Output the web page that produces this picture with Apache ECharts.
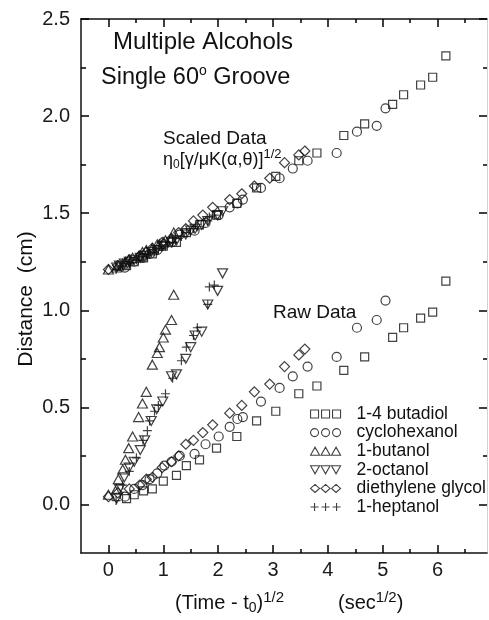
<!DOCTYPE html>
<html>
<head>
<meta charset="utf-8">
<script src="https://cdn.jsdelivr.net/npm/echarts@6/dist/echarts.min.js"></script>
<style>html,body{margin:0;padding:0;background:#fff}#c{width:489px;height:620px}</style>
</head>
<body>
<div id="c"></div>
<script>
// ---- data (x = (Time - t0)^1/2, raw distance, scaled distance) ----
const butadiolX      = [0.33,0.47,0.64,0.80,1.00,1.24,1.42,1.66,1.97,2.34,2.70,3.05,3.47,3.80,4.29,4.67,5.18,5.38,5.69,5.91,6.15];
const butadiolRaw    = [0.03,0.05,0.07,0.08,0.12,0.15,0.20,0.23,0.29,0.35,0.43,0.48,0.57,0.61,0.69,0.76,0.86,0.91,0.96,0.99,1.15];
const butadiolScaled = [1.23,1.25,1.27,1.29,1.33,1.35,1.40,1.44,1.49,1.55,1.63,1.69,1.77,1.81,1.90,1.96,2.06,2.11,2.16,2.20,2.31];

const cyclohexanolX      = [0.30,0.47,0.62,0.75,0.89,1.02,1.15,1.30,1.57,1.77,2.01,2.21,2.35,2.45,2.78,3.12,3.36,3.63,4.16,4.53,4.89,5.05];
const cyclohexanolRaw    = [0.04,0.08,0.10,0.13,0.16,0.20,0.22,0.25,0.26,0.31,0.35,0.40,0.44,0.45,0.53,0.60,0.66,0.71,0.76,0.91,0.95,1.05];
const cyclohexanolScaled = [1.22,1.25,1.27,1.29,1.31,1.34,1.35,1.39,1.41,1.45,1.49,1.53,1.55,1.57,1.63,1.68,1.73,1.77,1.81,1.92,1.95,2.04];

const butanolX      = [0.00,0.15,0.18,0.26,0.31,0.37,0.44,0.55,0.62,0.69,0.80,0.89,0.93,1.00,1.04,1.15,1.19];
const butanolRaw    = [0.05,0.08,0.13,0.18,0.23,0.29,0.35,0.45,0.52,0.58,0.72,0.78,0.81,0.86,0.90,0.95,1.08];
const butanolScaled = [1.21,1.22,1.23,1.24,1.25,1.26,1.27,1.28,1.30,1.31,1.32,1.34,1.34,1.35,1.36,1.37,1.40];

const octanolX      = [0.15,0.20,0.29,0.38,0.47,0.58,0.66,0.78,0.88,0.99,1.15,1.24,1.41,1.50,1.58,1.70,1.81,1.99,2.08];
const octanolRaw    = [0.03,0.08,0.14,0.19,0.22,0.28,0.33,0.43,0.49,0.53,0.66,0.67,0.75,0.81,0.87,0.89,1.03,1.10,1.19];
const octanolScaled = [1.22,1.23,1.24,1.25,1.26,1.27,1.28,1.30,1.31,1.33,1.35,1.36,1.39,1.41,1.42,1.44,1.46,1.49,1.51];

const glycolX      = [0.00,0.17,0.38,0.57,0.69,0.80,0.98,1.15,1.28,1.41,1.55,1.72,1.90,2.21,2.43,2.66,2.94,3.21,3.47,3.58];
const glycolRaw    = [0.04,0.06,0.08,0.10,0.13,0.14,0.19,0.22,0.25,0.31,0.33,0.37,0.41,0.47,0.51,0.58,0.62,0.71,0.77,0.80];
const glycolScaled = [1.21,1.23,1.26,1.28,1.30,1.32,1.35,1.37,1.40,1.42,1.46,1.49,1.53,1.57,1.60,1.64,1.68,1.76,1.80,1.82];

const heptanolX      = [0.14,0.26,0.38,0.51,0.63,0.71,0.75,0.84,0.91,1.04,1.17,1.33,1.42,1.55,1.62,1.81,1.84,1.93];
const heptanolRaw    = [0.02,0.10,0.17,0.24,0.33,0.38,0.43,0.48,0.51,0.57,0.65,0.74,0.81,0.87,0.91,1.03,1.12,1.13];
const heptanolScaled = [1.21,1.23,1.24,1.26,1.27,1.28,1.29,1.30,1.31,1.33,1.35,1.38,1.40,1.42,1.43,1.46,1.48,1.49];

const seriesNames = ['1-4 butadiol','cyclohexanol','1-butanol','2-octanol','diethylene glycol','1-heptanol'];

const xMajorTicks = [0,1,2,3,4,5,6];
const xMinorTicks = [0.5,1.5,2.5,3.5,4.5,5.5,6.5];
const yMajorTicks = [0,0.5,1.0,1.5,2.0,2.5];
const yMinorTicks = [0.25,0.75,1.25,1.75,2.25];

// ---- chart ----
const FONT = '"Liberation Sans", Arial, Helvetica, sans-serif';
const INK = '#111';

function pts(xs, raw, scaled){
  return xs.map((x,i)=>[x, raw[i]]).concat(xs.map((x,i)=>[x, scaled[i]]));
}

const symbols = {
  rect: 'rect',
  circle: 'circle',
  tri: 'triangle',
  inv: 'path://M0,0L10,0L5,9Z',
  diamond: 'diamond',
  plus: 'path://M5,0L5,10M0,5L10,5'
};
const legendIcons = [
  'path://M0,0H8V8H0Z M11,0H19V8H11Z M22,0H30V8H22Z',
  'path://M0,4A4,4,0,1,1,8,4A4,4,0,1,1,0,4Z M11,4A4,4,0,1,1,19,4A4,4,0,1,1,11,4Z M22,4A4,4,0,1,1,30,4A4,4,0,1,1,22,4Z',
  'path://M0,8L4.5,0L9,8Z M10.5,8L15,0L19.5,8Z M21,8L25.5,0L30,8Z',
  'path://M0,0L9,0L4.5,8Z M10.5,0L19.5,0L15,8Z M21,0L30,0L25.5,8Z',
  'path://M4.5,0L9,4L4.5,8L0,4Z M15,0L19.5,4L15,8L10.5,4Z M25.5,0L30,4L25.5,8L21,4Z',
  'path://M4,0V8M0,4H8 M15,0V8M11,4H19 M26,0V8M22,4H30'
];

const seriesDefs = [
  {data: pts(butadiolX, butadiolRaw, butadiolScaled), symbol: symbols.rect, size: 8},
  {data: pts(cyclohexanolX, cyclohexanolRaw, cyclohexanolScaled), symbol: symbols.circle, size: 9},
  {data: pts(butanolX, butanolRaw, butanolScaled), symbol: symbols.tri, size: [10,9]},
  {data: pts(octanolX, octanolRaw, octanolScaled), symbol: symbols.inv, size: [10,9]},
  {data: pts(glycolX, glycolRaw, glycolScaled), symbol: symbols.diamond, size: 10},
  {data: pts(heptanolX, heptanolRaw, heptanolScaled), symbol: symbols.plus, size: 9}
];

const markStyle = {color: 'transparent', borderColor: INK, borderWidth: 1.2};

function xAxisDef(gi, pos, ticks, len, showLine, showLabel){
  return {
    gridIndex: gi, type: 'value', position: pos, min: -0.5, max: 6.9,
    axisLine: {show: showLine, onZero: false, lineStyle: {color: INK, width: 1.5}},
    axisTick: {show: true, inside: true, length: len, customValues: ticks, lineStyle: {color: '#000', width: 1.5}},
    axisLabel: {show: showLabel, customValues: ticks, margin: 7, fontSize: 20, color: '#1a1a1a', fontFamily: FONT,
      formatter: v => String(v)},
    splitLine: {show: false}
  };
}
function yAxisDef(gi, pos, ticks, len, lineStyle, showLabel){
  return {
    gridIndex: gi, type: 'value', position: pos, min: -0.25, max: 2.5,
    axisLine: {show: !!lineStyle, onZero: false, lineStyle: lineStyle || {}},
    axisTick: {show: true, inside: true, length: len, customValues: ticks, lineStyle: {color: '#000', width: 1.5}},
    axisLabel: {show: showLabel, customValues: ticks, margin: 11, fontSize: 20, color: '#1a1a1a', fontFamily: FONT,
      formatter: v => v.toFixed(1)},
    splitLine: {show: false}
  };
}

const gridRect = {left: 81, right: 2, top: 19, bottom: 67};

const chart = echarts.init(document.getElementById('c'), null, {renderer: 'canvas'});
chart.setOption({
  animation: false,
  backgroundColor: '#fff',
  grid: [0,1,2,3].map(() => Object.assign({}, gridRect)),
  xAxis: [
    xAxisDef(0, 'bottom', xMajorTicks, 8, true, true),
    xAxisDef(1, 'bottom', xMinorTicks, 4, false, false),
    xAxisDef(2, 'top', xMajorTicks, 8, true, false),
    xAxisDef(3, 'top', xMinorTicks, 4, false, false)
  ],
  yAxis: [
    yAxisDef(0, 'left', yMajorTicks, 8, {color: INK, width: 1.5}, true),
    yAxisDef(1, 'left', yMinorTicks, 5, null, false),
    yAxisDef(2, 'right', yMajorTicks, 8, {color: '#c8c8c8', width: 1, type: 'dotted'}, false),
    yAxisDef(3, 'right', yMinorTicks, 4, null, false)
  ],
  legend: {
    orient: 'vertical', left: 310, top: 405, padding: 0, itemWidth: 30, itemHeight: 8, itemGap: 0.6,
    selectedMode: false,
    itemStyle: {color: 'transparent', borderColor: INK, borderWidth: 1.1},
    textStyle: {fontSize: 17.5, fontFamily: FONT, color: '#111', lineHeight: 18, padding: [0,0,0,11]},
    data: seriesNames.map((n,i)=>({name: n, icon: legendIcons[i]}))
  },
  series: seriesDefs.map((d,i)=>({
    type: 'scatter', name: seriesNames[i], xAxisIndex: 0, yAxisIndex: 0, data: d.data, symbol: d.symbol, symbolSize: d.size,
    itemStyle: markStyle, emphasis: {disabled: true}, silent: true
  })),
  graphic: [
    {type: 'text', left: 113, top: 30, style: {text: 'Multiple Alcohols', font: '24px ' + FONT, fill: INK}},
    {type: 'text', left: 101, top: 64, style: {text: 'Single 60{sup|o} Groove', font: '23.5px ' + FONT, fill: INK,
      rich: {sup: {fontSize: 14, fontFamily: FONT, padding: [0,0,14,0]}}}},
    {type: 'text', left: 163, top: 129, style: {text: 'Scaled Data', font: '19px ' + FONT, fill: INK}},
    {type: 'text', left: 163, top: 148, style: {text: 'η{sub|0}[γ/μK(α,θ)]{sup|1/2}', font: '18px ' + FONT, fill: INK,
      rich: {sub: {fontSize: 12, fontFamily: FONT, padding: [8,0,0,0]}, sup: {fontSize: 13, fontFamily: FONT, padding: [0,0,12,0]}}}},
    {type: 'text', left: 273, top: 303, style: {text: 'Raw Data', font: '19px ' + FONT, fill: INK}},
    {type: 'text', x: 26, y: 299, rotation: Math.PI/2, style: {text: 'Distance  (cm)', font: '21px ' + FONT, fill: INK,
      align: 'center', verticalAlign: 'middle'}},
    {type: 'text', left: 175, top: 590, style: {text: '(Time - t{sub|0}){sup|1/2}', font: '20px ' + FONT, fill: INK,
      rich: {sub: {fontSize: 14, fontFamily: FONT, padding: [9,0,0,0]}, sup: {fontSize: 15, fontFamily: FONT, padding: [0,0,12,0]}}}},
    {type: 'text', left: 338, top: 590, style: {text: '(sec{sup|1/2})', font: '20px ' + FONT, fill: INK,
      rich: {sup: {fontSize: 15, fontFamily: FONT, padding: [0,0,12,0]}}}}
  ]
});
</script>
</body>
</html>
